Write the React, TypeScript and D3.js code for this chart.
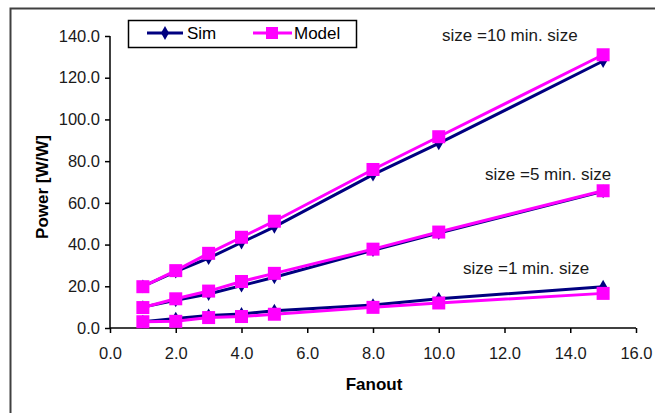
import React, { useEffect, useRef } from 'react';
import * as d3 from 'd3';

const fanout = [1, 2, 3, 4, 5, 8, 10, 15];
const sim10 = [20, 27, 33.5, 41, 48.5, 73.5, 88.5, 128];
const model10 = [19.8, 27.5, 35.8, 43.5, 51.2, 76, 91.7, 131];
const sim5 = [10, 13.3, 16.3, 20.3, 24.3, 37.3, 45.5, 65.5];
const model5 = [9.8, 14, 17.7, 22.3, 26.2, 37.8, 46, 65.8];
const sim1 = [3, 4.5, 6, 6.7, 8.3, 11, 14, 19.8];
const model1 = [3, 3.2, 5, 5.5, 6.6, 9.9, 12, 16.6];
const xTicks = [0, 2, 4, 6, 8, 10, 12, 14, 16];
const yTicks = [0, 20, 40, 60, 80, 100, 120, 140];
const notes = ['size =10 min. size', 'size =5 min. size', 'size =1 min. size'];

const NAVY = '#000080';
const MAGENTA = '#ff00ff';
const FONT = 'Arial, "Liberation Sans", sans-serif';

const App = () => {
  const ref = useRef<SVGSVGElement>(null);

  useEffect(() => {
    const svg = d3.select(ref.current);
    svg.selectAll('*').remove();

    // plot area
    const x = d3.scaleLinear().domain([0, 16]).range([110, 636]);
    const y = d3.scaleLinear().domain([0, 140]).range([328, 36]);

    // outer chart border (right/bottom edges run off the picture)
    svg
      .append('rect')
      .attr('x', 10.5)
      .attr('y', 8.5)
      .attr('width', 700)
      .attr('height', 460)
      .attr('fill', '#fff')
      .attr('stroke', '#404040')
      .attr('stroke-width', 2);

    // axes
    const yAxis = svg
      .append('g')
      .attr('transform', `translate(${x(0)},0)`)
      .call(d3.axisLeft(y).tickValues(yTicks).tickSize(5).tickPadding(5).tickFormat(d3.format('.1f')));
    const xAxis = svg
      .append('g')
      .attr('transform', `translate(0,${y(0)})`)
      .call(d3.axisBottom(x).tickValues(xTicks).tickSize(5).tickPadding(14).tickFormat(d3.format('.1f')));

    [yAxis, xAxis].forEach((g) => {
      g.select('.domain').attr('stroke', '#000').attr('stroke-width', 1.5);
      g.selectAll('.tick line').attr('stroke', '#000').attr('stroke-width', 1.5);
      g.selectAll('.tick text')
        .attr('fill', '#1a1a1a')
        .style('font-family', FONT)
        .style('font-size', '16.5px');
    });
    yAxis.select('.domain').attr('d', `M${-0},${y(140)}V${y(0)}`);
    xAxis.select('.domain').attr('d', `M${x(0)},0H${x(16)}`);

    // axis titles
    svg
      .append('text')
      .attr('x', 374)
      .attr('y', 390)
      .attr('text-anchor', 'middle')
      .style('font-family', FONT)
      .style('font-size', '17px')
      .style('font-weight', 'bold')
      .text('Fanout');
    svg
      .append('text')
      .attr('transform', 'translate(42,187) rotate(-90)')
      .attr('text-anchor', 'middle')
      .attr('dy', '0.35em')
      .style('font-family', FONT)
      .style('font-size', '17px')
      .style('font-weight', 'bold')
      .text('Power [W/W]');

    const line = d3
      .line<number>()
      .x((_, i) => x(fanout[i]))
      .y((d) => y(d));

    const diamond = d3.symbol().type(d3.symbolDiamond).size(55);

    const drawSim = (vals: number[]) => {
      svg.append('path').attr('d', line(vals)).attr('fill', 'none').attr('stroke', NAVY).attr('stroke-width', 3);
      svg
        .selectAll(null)
        .data(vals)
        .enter()
        .append('path')
        .attr('d', diamond)
        .attr('transform', (d, i) => `translate(${x(fanout[i])},${y(d)})`)
        .attr('fill', NAVY);
    };
    const drawModel = (vals: number[]) => {
      svg.append('path').attr('d', line(vals)).attr('fill', 'none').attr('stroke', MAGENTA).attr('stroke-width', 3);
      svg
        .selectAll(null)
        .data(vals)
        .enter()
        .append('rect')
        .attr('x', (d, i) => x(fanout[i]) - 6.5)
        .attr('y', (d) => y(d) - 6.5)
        .attr('width', 13)
        .attr('height', 13)
        .attr('fill', MAGENTA);
    };

    [sim10, sim5, sim1].forEach((s, k) => {
      drawSim(s);
      drawModel([model10, model5, model1][k]);
    });

    // annotations
    const notePos = [
      [442, 41],
      [485, 180],
      [463, 274],
    ];
    notes.forEach((t, i) => {
      svg
        .append('text')
        .attr('x', notePos[i][0])
        .attr('y', notePos[i][1])
        .style('font-family', FONT)
        .style('font-size', '17px')
        .attr('fill', '#1a1a1a')
        .text(t);
    });

    // legend
    const lg = svg.append('g');
    lg.append('rect')
      .attr('x', 128.5)
      .attr('y', 20.5)
      .attr('width', 228)
      .attr('height', 27)
      .attr('fill', '#fff')
      .attr('stroke', '#000')
      .attr('stroke-width', 1.5);
    lg.append('line').attr('x1', 147).attr('x2', 183).attr('y1', 33).attr('y2', 33).attr('stroke', NAVY).attr('stroke-width', 3);
    lg.append('path').attr('d', diamond).attr('transform', 'translate(165,33)').attr('fill', NAVY);
    lg.append('text').attr('x', 187).attr('y', 39).style('font-family', FONT).style('font-size', '17px').text('Sim');
    lg.append('line').attr('x1', 253).attr('x2', 292).attr('y1', 33).attr('y2', 33).attr('stroke', MAGENTA).attr('stroke-width', 3);
    lg.append('rect').attr('x', 266).attr('y', 27).attr('width', 12).attr('height', 12).attr('fill', MAGENTA);
    lg.append('text').attr('x', 294).attr('y', 39).style('font-family', FONT).style('font-size', '17px').text('Model');
  }, []);

  return (
    <svg
      ref={ref}
      width={655}
      height={413}
      style={{ position: 'absolute', left: 0, top: 0, background: '#fff' }}
    />
  );
};

export default App;
